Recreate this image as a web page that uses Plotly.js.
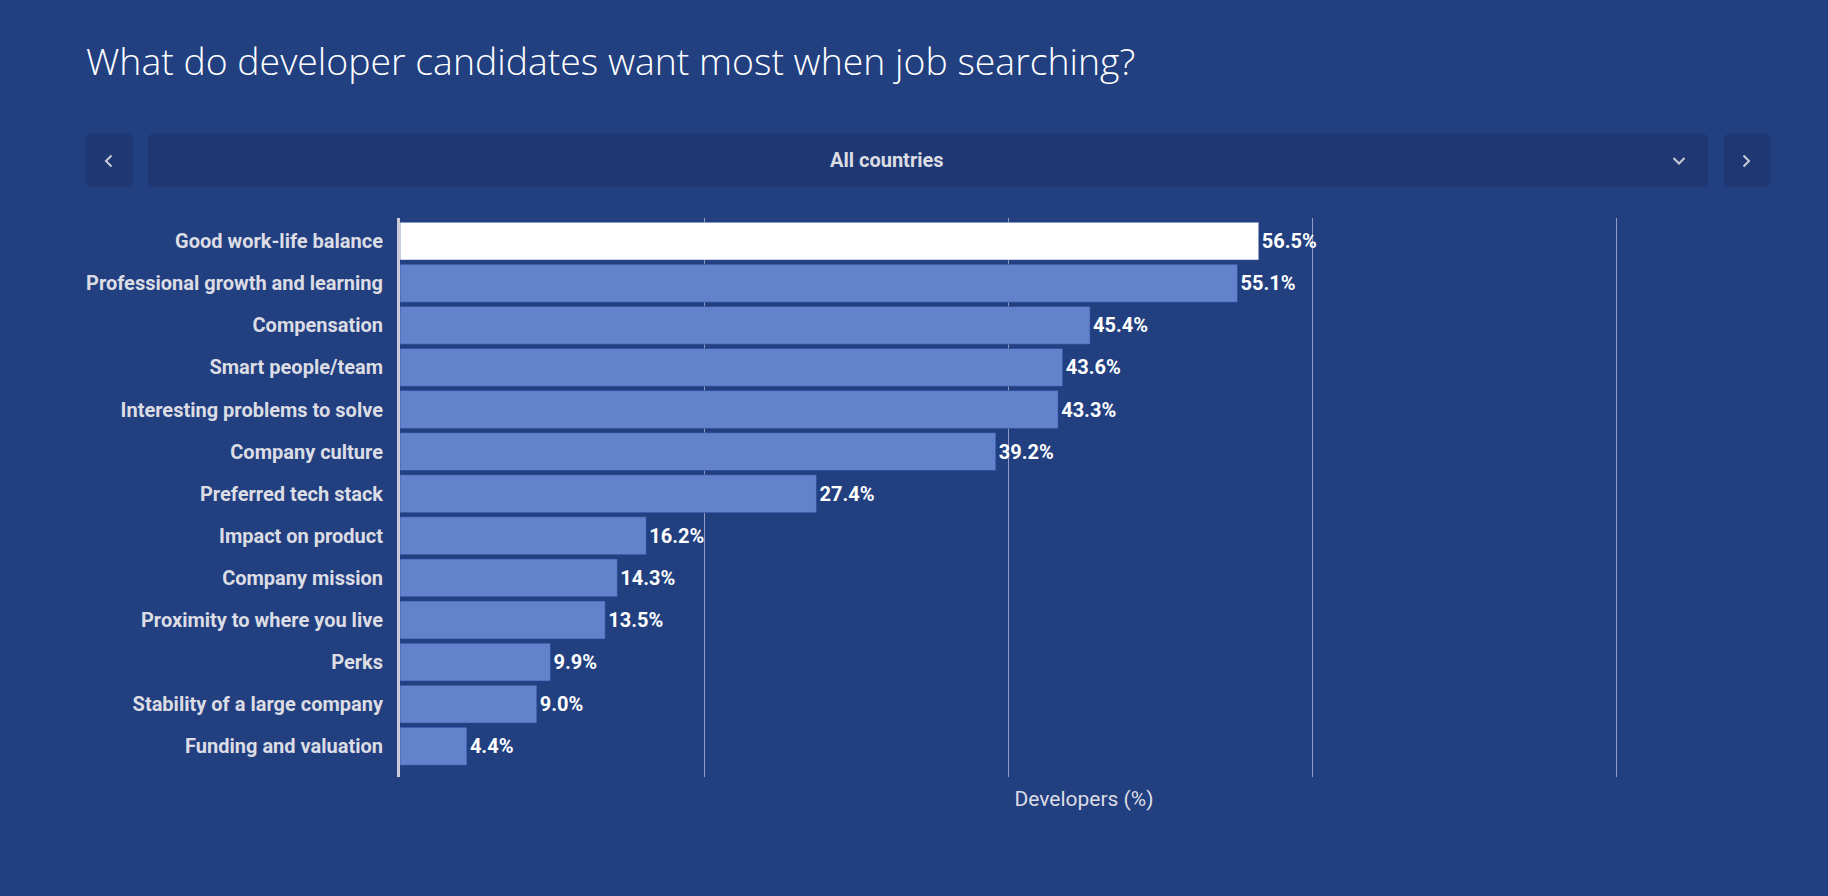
<!DOCTYPE html>
<html>
<head>
<meta charset="utf-8">
<script src="https://cdn.plot.ly/plotly-3.0.1.min.js"></script>
<style>
  html, body { margin: 0; padding: 0; background: #223f80; }
  #chart { width: 1828px; height: 896px; }
</style>
</head>
<body>
<div id="chart"></div>
<script>
// ---- data ----
const categories = [
  "Good work-life balance",
  "Professional growth and learning",
  "Compensation",
  "Smart people/team",
  "Interesting problems to solve",
  "Company culture",
  "Preferred tech stack",
  "Impact on product",
  "Company mission",
  "Proximity to where you live",
  "Perks",
  "Stability of a large company",
  "Funding and valuation"
];
const values = [56.5, 55.1, 45.4, 43.6, 43.3, 39.2, 27.4, 16.2, 14.3, 13.5, 9.9, 9.0, 4.4];
const titleText = "What do developer candidates want most when job searching?";
const dropdownLabel = "All countries";
const xAxisTitle = "Developers (%)";

// ---- layout geometry (pixels) ----
const W = 1828, H = 896;
const M = { l: 400, r: 60, t: 218, b: 119 };
const PW = W - M.l - M.r, PH = H - M.t - M.b;
const px = x => (x - M.l) / PW;
const py = y => (H - M.b - y) / PH;

function roundRect(x0, y0, x1, y1, r) {
  const P = (x, y) => px(x) + "," + py(y);
  return "M" + P(x0 + r, y0) + " L" + P(x1 - r, y0) +
    " Q" + P(x1, y0) + " " + P(x1, y0 + r) +
    " L" + P(x1, y1 - r) + " Q" + P(x1, y1) + " " + P(x1 - r, y1) +
    " L" + P(x0 + r, y1) + " Q" + P(x0, y1) + " " + P(x0, y1 - r) +
    " L" + P(x0, y0 + r) + " Q" + P(x0, y0) + " " + P(x0 + r, y0) + " Z";
}
function polyline(pts) {
  return pts.map((p, i) => (i ? "L" : "M") + px(p[0]) + "," + py(p[1])).join(" ");
}

const boxFill = "#1f3873";
const chevron = "#c9ccd8";
const shapes = [
  { type: "path", xref: "paper", yref: "paper", path: roundRect(86, 134, 133, 187, 5), fillcolor: boxFill, line: { width: 0 }, layer: "below" },
  { type: "path", xref: "paper", yref: "paper", path: roundRect(148, 134, 1708, 187, 5), fillcolor: boxFill, line: { width: 0 }, layer: "below" },
  { type: "path", xref: "paper", yref: "paper", path: roundRect(1724, 134, 1770, 187, 5), fillcolor: boxFill, line: { width: 0 }, layer: "below" },
  { type: "path", xref: "paper", yref: "paper", path: polyline([[111.5, 155.5], [106, 161], [111.5, 166.5]]), line: { color: chevron, width: 2 } },
  { type: "path", xref: "paper", yref: "paper", path: polyline([[1743.5, 155.5], [1749, 161], [1743.5, 166.5]]), line: { color: chevron, width: 2 } },
  { type: "path", xref: "paper", yref: "paper", path: polyline([[1673.5, 158], [1679, 163.5], [1684.5, 158]]), line: { color: chevron, width: 2 } }
];

const barColors = values.map((v, i) => i === 0 ? "#ffffff" : "#6282cc");

const trace = {
  type: "bar",
  orientation: "h",
  y: categories,
  x: values,
  marker: { color: barColors, line: { color: "rgba(40,70,150,0.55)", width: 1 } },
  text: values.map(v => v.toFixed(1) + "%"),
  textposition: "outside",
  cliponaxis: false,
  constraintext: "none",
  textfont: { family: "Roboto", size: 20, weight: 700, color: "#ffffff" },
  hoverinfo: "none"
};

const layout = {
  width: W, height: H,
  paper_bgcolor: "#223f80",
  plot_bgcolor: "#223f80",
  margin: M,
  showlegend: false,
  bargap: 0.1,
  font: { family: "Roboto", color: "#dcdde4" },
  title: {
    text: titleText,
    x: 86 / W, xanchor: "left",
    y: 1 - 62 / H, yanchor: "middle",
    font: { family: "Open Sans", size: 37.4, weight: 300, color: "#ffffff" }
  },
  xaxis: {
    range: [0, 90],
    showgrid: true,
    gridcolor: "#8e9cc0",
    gridwidth: 1,
    dtick: 20,
    tick0: 0,
    showticklabels: false,
    zeroline: false,
    showline: false,
    fixedrange: true,
    title: { text: xAxisTitle, standoff: 14, font: { family: "Roboto", size: 21, color: "#dcdde4" } }
  },
  yaxis: {
    type: "category",
    range: [12.73, -0.55],
    showline: true,
    linecolor: "#c9cdd8",
    linewidth: 3,
    showgrid: false,
    zeroline: false,
    ticks: "outside",
    ticklen: 10,
    tickcolor: "rgba(0,0,0,0)",
    fixedrange: true,
    tickfont: { family: "Roboto", size: 20, weight: 700, color: "#dcdde4" }
  },
  shapes: shapes,
  annotations: [
    { xref: "paper", yref: "paper", x: px(887), y: py(160), text: dropdownLabel, showarrow: false,
      xanchor: "center", yanchor: "middle",
      font: { family: "Roboto", size: 20, weight: 700, color: "#dcdde4" } }
  ]
};

Plotly.newPlot("chart", [trace], layout, { displayModeBar: false, staticPlot: true });
</script>
</body>
</html>
